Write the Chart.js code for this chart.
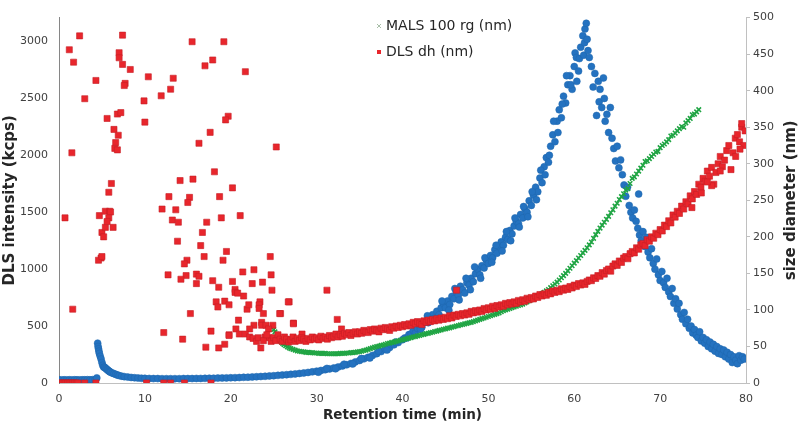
<!DOCTYPE html>
<html>
<head>
<meta charset="utf-8">
<script src="https://cdn.jsdelivr.net/npm/chart.js@4/dist/chart.umd.min.js"></script>
<style>
  html, body { margin: 0; padding: 0; background: #fff; }
  #wrap { width: 800px; height: 426px; }
</style>
</head>
<body>
<div id="wrap"><canvas id="chart" width="800" height="426"></canvas></div>
<script>
// tick values
const timeTicks = [0, 10, 20, 30, 40, 50, 60, 70, 80];
const intensityTicks = [0, 500, 1000, 1500, 2000, 2500, 3000];
const sizeTicks = [0, 50, 100, 150, 200, 250, 300, 350, 400, 450, 500];

// DLS intensity (kcps), [time, value]
const dlsIntensity = [
  [0,28],[0.3,27],[0.6,28],[0.9,27],[1.2,28],[1.5,27],[1.8,28],[2.1,28],[2.4,27],[2.7,28],[3.0,28],[3.3,29],[3.6,28],[3.9,29],[4.2,30],[4.4,45],
  [4.5,350],[4.55,320],[4.6,300],[4.65,280],[4.7,260],[4.8,235],[4.9,210],[5.0,180],[5.1,155],[5.2,140],[5.3,138],[5.4,132],[5.5,125],[5.6,118],[5.7,112],[5.8,105],[5.9,100],[6.0,95],[6.2,88],[6.4,82],[6.6,76],[6.8,70],[7.0,65],[7.3,60],[7.6,56],[8.0,52],[8.4,49],[8.8,46],[9.2,44],[9.6,42],
  [10,41],[10.5,40],[11,39],[11.5,39],[12,38],[12.5,38],[13,38],[13.5,38],[14,38],[14.5,39],[15,39],[15.5,39],[16,40],[16.5,40],[17,41],[17.5,42],[18,42],[18.5,43],[19,44],[19.5,45],
  [20,46],[20.5,47],[21,48],[21.5,50],[22,51],[22.5,53],[23,55],[23.5,57],[24,59],[24.5,62],[25,64],[25.5,67],[26,70],[26.5,73],[27,76],[27.5,80],[28,84],[28.5,88],[29,93],[29.5,98],
  [30,104],[30.5,110],[31,117],[31.5,124],[32,132],[32.5,140],[33,150],[33.5,160],[34,172],[34.5,185],[35,198],[35.5,212],[36,226],[36.5,242],[37,258],[37.5,276],[38,295],[38.5,312],[39,335],[39.5,355],
  [30.2,95],[31.2,128],[32.2,125],[33.2,165],[34.2,168],[35.2,215],[36.2,220],[37.2,280],[38.2,290],[39.2,360],
  [40,380],[40.25,395],[40.5,395],[40.75,425],[41,430],[41.25,460],[41.5,440],[41.75,480],[42,500],[42.25,490],[42.5,530],[42.75,540],[43,530],[43.25,580],[43.5,600],[43.75,570],[44,630],[44.25,600],[44.5,660],[44.75,700],
  [45,660],[45.25,720],[45.5,690],[45.75,760],[46,740],[46.25,800],[46.5,770],[46.75,850],[47,820],[47.25,790],[47.5,880],[47.75,860],[48,920],[48.25,890],[48.5,960],[48.75,1000],[49,950],[49.25,1030],[49.5,1010],[49.75,1080],
  [42.1,470],[42.9,590],[43.9,560],[44.6,720],[45.4,640],[46.1,830],[46.6,730],[47.4,920],[47.9,820],[48.4,1020],[49.1,920],[49.6,1100],
  [50,1050],[50.25,1120],[50.5,1100],[50.75,1170],[51,1140],[51.25,1200],[51.5,1240],[51.75,1210],[52,1280],[52.25,1260],[52.5,1340],[52.75,1310],[53,1380],[53.25,1420],[53.5,1400],[53.75,1480],[54,1450],[54.25,1530],[54.5,1500],[54.75,1600],
  [50.4,1060],[50.9,1210],[51.6,1160],[52.1,1330],[52.6,1250],[53.1,1450],[53.6,1370],[54.1,1550],[54.6,1460],
  [55,1560],[55.25,1650],[55.5,1720],[55.75,1680],[56,1800],[56.25,1760],[56.5,1900],[56.75,1980],[57,1940],[57.25,2080],[57.5,2180],[57.75,2120],[58,2300],[58.25,2400],[58.5,2330],[58.75,2520],[59,2460],[59.25,2620],[59.5,2700],[59.75,2580],
  [55.1,1680],[55.6,1610],[56.1,1870],[56.6,1830],[57.1,2000],[57.6,2300],[58.1,2200],[58.6,2450],[59.1,2700],[59.6,2620],
  [60,2780],[60.1,2900],[60.25,2860],[60.3,2650],[60.5,2740],[60.6,2850],[60.75,2950],[61,3050],[61.1,2880],[61.2,2990],[61.25,3110],[61.4,3160],[61.5,3020],[61.6,2920],[61.75,2860],
  [62,2780],[62.2,2600],[62.4,2720],[62.6,2350],[62.8,2650],[62.9,2470],[63,2580],[63.2,2420],[63.4,2680],[63.5,2500],[63.6,2300],[63.8,2360],[64,2200],[64.2,2420],[64.4,2150],[64.6,2060],[64.8,1950],
  [65,2080],[65.2,1890],[65.4,1960],[65.6,1830],[65.8,1740],[66,1640],[66.2,1720],[66.4,1560],[66.6,1500],[66.8,1450],[67,1520],[67.2,1420],[67.4,1360],[67.5,1660],[67.6,1300],[67.8,1250],
  [68,1330],[68.2,1200],[68.4,1280],[68.6,1150],[68.8,1100],[69,1180],[69.2,1050],[69.4,1000],[69.6,1090],[69.8,950],
  [70,900],[70.2,980],[70.4,880],[70.6,840],[70.8,920],[71,800],[71.2,760],[71.4,830],[71.6,700],[71.8,740],[72,650],[72.2,700],[72.4,600],[72.6,560],[72.8,620],[73,520],[73.2,560],[73.4,480],[73.6,500],[73.8,440],
  [74,470],[74.2,420],[74.4,400],[74.6,450],[74.8,370],[75,400],[75.2,350],[75.4,380],[75.6,320],[75.8,360],[76,300],[76.2,340],[76.4,280],[76.6,320],[76.8,260],[77,300],[77.2,250],[77.4,290],[77.6,230],[77.8,270],
  [78,210],[78.2,250],[78.4,180],[78.6,230],[78.8,200],[79,170],[79.2,240],[79.4,200],[79.6,230],[79.8,210]
];

// MALS 100 rg (nm), [time, value]
const malsRg = [
  [25,73],[25.15,70],[25.3,67],[25.45,64],[25.6,61],[25.75,58],[25.9,56],[26.05,54],[26.2,52.5],[26.4,51],[26.6,49.5],[26.8,48],[27,47],[27.25,46],[27.5,45],[27.75,44],[28,43.5],[28.25,43],[28.5,42.5],[28.75,42],
  [29,42],[29.25,41.5],[29.5,41.5],[29.75,41],[30,41],[30.25,40.5],[30.5,40.5],[30.75,40.5],[31,40.5],[31.25,40],[31.5,40],[31.75,40],[32,40],[32.25,40],[32.5,40],[32.75,40.5],[33,40.5],[33.25,40.5],[33.5,41],[33.75,41],
  [34,41.5],[34.25,41.5],[34.5,42],[34.75,42.5],[35,43],[35.25,43.5],[35.5,44.5],[35.75,45],[36,46],[36.25,47],[36.5,48],[36.75,49],[37,50],[37.25,50.5],[37.5,51.5],[37.75,52],[38,53],[38.25,54],[38.5,54.5],[38.75,55.5],
  [39,56],[39.25,57],[39.5,57.5],[39.75,58.5],[40,59],[40.25,60],[40.5,60.5],[40.75,61.5],[41,62],[41.25,63],[41.5,63.5],[41.75,64.5],[42,65],[42.25,66],[42.5,66.5],[42.75,67.5],[43,68],[43.25,69],[43.5,69.5],[43.75,70.5],
  [44,71],[44.25,72],[44.5,72.5],[44.75,73.5],[45,74],[45.25,75],[45.5,75.5],[45.75,76.5],[46,77],[46.25,78],[46.5,78.5],[46.75,79.5],[47,80],[47.25,81],[47.5,81.5],[47.75,82.5],[48,83],[48.25,84],[48.5,85],[48.75,86],
  [49,87],[49.25,88],[49.5,89],[49.75,90],[50,91],[50.25,92],[50.5,93],[50.75,94],[51,95],[51.25,96],[51.5,97.5],[51.75,99],[52,100],[52.25,101],[52.5,102],[52.75,103],[53,104],[53.25,105],[53.5,106],[53.75,107],
  [54,108],[54.25,109.5],[54.5,111],[54.75,112.5],[55,114],[55.25,115.5],[55.5,117],[55.75,119],[56,121],[56.25,122.5],[56.5,124],[56.75,126],[57,128],[57.25,130.5],[57.5,133],[57.75,135.5],[58,138],[58.25,141],[58.5,144],[58.75,147],
  [59,150],[59.25,153.5],[59.5,157],[59.75,160.5],[60,164],[60.25,167.5],[60.5,171],[60.75,174.5],[61,178],[61.25,181.5],[61.5,185],[61.75,189],[62,193],[62.25,198],[62.5,203],[62.75,207.5],[63,212],[63.25,216],[63.5,220],[63.75,224],
  [64,228],[64.25,233],[64.5,237],[64.75,242],[65,246],[65.25,251],[65.5,255],[65.75,259],[66,264],[66.25,266],[66.5,273],[66.75,280],[67,282],[67.25,286],[67.5,290],[67.75,294],[68,298],[68.25,303],[68.5,304],[68.75,307],
  [69,310],[69.25,313],[69.5,316],[69.75,317],[70,322],[70.25,325],[70.5,327],[70.75,330],[71,333],[71.25,338],[71.5,339],[71.75,342],[72,345],[72.25,348],[72.5,351],[72.75,350],[73,356],[73.25,359],[73.5,362],[73.75,367],
  [74,368],[74.25,371],[74.5,374]
];

// DLS dh (nm), [time, value]
const dlsDh = [
  [0,0],[0.2,0],[0.4,0],[0.6,0],[0.8,0],[1.0,0],[1.2,0],[1.4,0],[1.6,0],[1.8,0],[2.0,0],[2.2,0],[3.0,0],[4.3,0],[10.2,0],[12.2,0],[13.0,0],[14.6,0],[17.7,0],
  [2.4,475],[1.2,456],[1.7,439],[7.4,476],[7.0,452],[7.0,445],[7.4,436],[8.3,429],[4.3,414],[3.0,389],[7.7,410],[7.6,407],[10.4,419],[13.3,417],[13.0,402],[9.9,386],[11.9,393],[5.6,362],[6.8,368],[7.2,370],
  [10.0,357],[6.4,347],[6.9,339],[6.6,329],[6.5,321],[6.8,319],[1.5,315],[15.5,467],[19.2,467],[17.9,442],[17.0,434],[21.7,426],[19.7,365],[19.4,360],[17.6,343],[16.3,328],[25.3,323],[18.1,289],[15.6,279],[14.1,277],
  [20.2,267],[6.1,273],[5.8,261],[12.8,255],[15.2,254],[15.0,247],[18.7,255],[12.0,238],[13.6,237],[21.1,229],[18.9,226],[13.2,223],[13.9,220],[17.2,220],[0.7,226],[4.7,229],[5.4,235],[5.9,235],[6.0,234],[5.8,226],
  [1.6,101],[5.0,206],[5.2,200],[5.4,213],[5.6,221],[6.3,213],[4.9,171],[4.6,168],[5.0,173],[16.7,206],[13.8,194],[16.5,188],[16.9,173],[19.5,180],[19.1,168],[14.9,168],[14.6,163],[12.7,148],[14.8,147],[14.2,142],
  [16.0,149],[16.3,146],[16.0,136],[17.9,140],[18.6,131],[20.2,139],[21.4,152],[22.7,155],[24.6,173],[24.7,148],[23.7,138],[22.5,136],[20.5,128],[20.5,124],[20.8,123],[21.5,119],[24.8,127],[18.3,111],[19.3,112],[19.8,107],
  [18.5,104],[15.3,95],[21.9,101],[23.4,111],[23.3,107],[23.3,102],[22.1,107],[26.8,111],[25.8,95],[23.8,95],[20.9,86],[23.6,83],[23.6,79],[22.7,79],[22.2,74],[24.1,79],[24.9,79],[24.4,74],[27.3,82],[20.6,74],
  [21.0,67],[21.7,67],[22.2,63],[22.6,61],[23.0,57],[24.0,63],[24.5,62],[17.7,71],[19.8,66],[14.4,60],[12.2,69],[17.1,49],[18.6,48],[19.3,53],[19.8,65],[23.5,48],[31.2,127],[26.7,111],[25.7,95],[27.3,81],
  [32.4,87],[32.9,74],[46.3,127],[28.3,67],
  [23.2,62],[23.8,58],[24.2,66],[24.7,57],
  [25,62],[25.25,58],[25.5,66],[25.75,60],[26,57],[26.25,63],[26.5,60],[26.75,56],[27,59],[27.25,63],[27.5,57],[27.75,61],[28,58],[28.25,62],[28.5,60],[28.75,57],[29,61],[29.25,59],[29.5,63],[29.75,60],
  [30,62],[30.25,59],[30.5,64],[30.75,61],[31,63],[31.25,60],[31.5,65],[31.75,62],[32,64],[32.25,67],[32.5,63],[32.75,66],[33,64],[33.25,68],[33.5,66],[33.75,69],[34,65],[34.25,68],[34.5,70],[34.75,67],
  [35,70],[35.25,68],[35.5,72],[35.75,70],[36,69],[36.25,73],[36.5,71],[36.75,74],[37,72],[37.25,70],[37.5,75],[37.75,73],[38,76],[38.25,74],[38.5,72],[38.75,77],[39,75],[39.25,78],[39.5,76],[39.75,79],
  [40,77],[40.25,80],[40.5,78],[40.75,81],[41,79],[41.25,83],[41.5,81],[41.75,84],[42,82],[42.25,80],[42.5,85],[42.75,83],[43,86],[43.25,84],[43.5,87],[43.75,85],[44,88],[44.25,86],[44.5,89],[44.75,87],
  [45,90],[45.25,88],[45.5,92],[45.75,89],[46,93],[46.25,91],[46.5,94],[46.75,92],[47,95],[47.25,93],[47.5,96],[47.75,94],[48,98],[48.25,96],[48.5,99],[48.75,97],[49,100],[49.25,98],[49.5,102],[49.75,100],
  [50,103],[50.25,101],[50.5,105],[50.75,102],[51,106],[51.25,104],[51.5,107],[51.75,105],[52,109],[52.25,107],[52.5,110],[52.75,108],[53,111],[53.25,109],[53.5,113],[53.75,111],[54,114],[54.25,112],[54.5,116],[54.75,114],
  [55,117],[55.25,115],[55.5,119],[55.75,117],[56,121],[56.25,119],[56.5,122],[56.75,120],[57,124],[57.25,122],[57.5,126],[57.75,124],[58,127],[58.25,125],[58.5,129],[58.75,127],[59,130],[59.25,128],[59.5,132],[59.75,130],
  [60,134],[60.25,132],[60.5,136],[60.75,134],[61,137],[61.25,135],[61.5,139],[61.75,141],[62,140],[62.25,144],[62.5,143],[62.75,147],[63,146],[63.25,151],[63.5,149],[63.75,154],[64,156],[64.25,153],[64.5,160],[64.75,163],
  [65,161],[65.25,167],[65.5,165],[65.75,171],[66,173],[66.25,170],[66.5,177],[66.75,180],[67,178],[67.25,185],[67.5,183],[67.75,189],[68,191],[68.25,188],[68.5,196],[68.75,194],[69,200],[69.25,198],[69.5,205],[69.75,203],
  [70,210],[70.25,208],[70.5,216],[70.75,214],[71,222],[71.25,219],[71.5,230],[71.75,227],[72,235],[72.25,232],[72.5,242],[72.75,238],[73,248],[73.25,245],[73.5,256],[73.75,252],[74,262],[74.25,258],[74.5,272],[74.75,268],
  [75,280],[75.25,276],[75.5,290],[75.75,283],[76,295],[76.25,272],[76.5,288],[76.75,300],[77,310],[77.25,296],[77.5,305],[77.75,318],[78,325],[78.25,292],[78.5,315],[78.75,335],[79,340],[79.25,330],[79.5,350],[79.75,325],
  [79.9,345],[79.3,320],[79.5,355],[78.8,310],[77,290],[76,270],[75.5,275],[74.8,260],[73.7,240]
];

const toXY = arr => arr.map(p => ({ x: p[0], y: p[1] }));
const FONT = "'DejaVu Sans', Verdana, sans-serif";

// legend (only the two size series) and right-hand title read bottom-to-top
const extras = {
  id: "extras",
  afterDraw(chart) {
    const ctx = chart.ctx;
    ctx.save();
    ctx.font = "14px " + FONT;
    ctx.fillStyle = "#262626";
    ctx.textBaseline = "middle";
    ctx.textAlign = "left";
    // MALS entry
    ctx.strokeStyle = "#a9bfa9";
    ctx.lineWidth = 1;
    ctx.beginPath();
    ctx.moveTo(377, 24); ctx.lineTo(381, 28);
    ctx.moveTo(381, 24); ctx.lineTo(377, 28);
    ctx.stroke();
    ctx.fillText(chart.data.datasets[1].label, 386, 26);
    // DLS dh entry
    ctx.fillStyle = "#e8262c";
    ctx.fillRect(377, 50, 4, 4);
    ctx.fillStyle = "#262626";
    ctx.fillText(chart.data.datasets[2].label, 386, 52);

    const y1 = chart.scales.y1;
    ctx.translate(791, (y1.top + y1.bottom) / 2);
    ctx.rotate(-Math.PI / 2);
    ctx.textAlign = "center";
    ctx.font = "bold 15px " + FONT;
    ctx.fillText("size diameter (nm)", 0, 0);
    ctx.restore();
  }
};

const plainTick = v => String(v);

new Chart(document.getElementById("chart"), {
  type: "scatter",
  data: {
    datasets: [
      {
        label: "DLS intensity (kcps)",
        data: toXY(dlsIntensity),
        yAxisID: "y",
        order: 3,
        pointStyle: "circle",
        pointRadius: 3.5,
        backgroundColor: "#2472c0",
        borderColor: "#1f66ad",
        borderWidth: 0.5
      },
      {
        label: "MALS 100 rg (nm)",
        data: toXY(malsRg),
        yAxisID: "y1",
        order: 2,
        pointStyle: "crossRot",
        pointRadius: 3.2,
        borderColor: "#20a544",
        backgroundColor: "#20a544",
        borderWidth: 1.6
      },
      {
        label: "DLS dh (nm)",
        data: toXY(dlsDh),
        yAxisID: "y1",
        order: 1,
        pointStyle: "rect",
        pointRadius: 4.3,
        backgroundColor: "#e8262c",
        borderColor: "#c81f25",
        borderWidth: 0.6
      }
    ]
  },
  options: {
    responsive: false,
    animation: false,
    devicePixelRatio: 1,
    layout: { padding: { top: 5, left: 0, right: 0, bottom: 0 } },
    plugins: {
      legend: { display: false },
      tooltip: { enabled: false }
    },
    scales: {
      x: {
        type: "linear",
        min: 0,
        max: 80,
        afterFit: s => { s.height = 43; },
        afterBuildTicks: s => { s.ticks = timeTicks.map(v => ({ value: v })); },
        grid: { display: false, drawTicks: false },
        border: { color: "#c0c0c0", width: 1 },
        ticks: { padding: 10, color: "#404040", font: { family: FONT, size: 11 }, callback: plainTick },
        title: {
          display: true,
          text: "Retention time (min)",
          color: "#262626",
          padding: { top: 0, bottom: 2 },
          font: { family: FONT, size: 13.5, weight: "bold" }
        }
      },
      y: {
        position: "left",
        min: 0,
        max: 3210,
        afterFit: s => { s.width = 59; },
        afterBuildTicks: s => { s.ticks = intensityTicks.map(v => ({ value: v })); },
        grid: { display: false, drawTicks: false },
        border: { color: "#868686", width: 1 },
        ticks: { padding: 11, color: "#404040", font: { family: FONT, size: 11 }, callback: plainTick },
        title: {
          display: true,
          text: "DLS intensity (kcps)",
          color: "#262626",
          padding: { top: 1, bottom: 0 },
          font: { family: FONT, size: 15, weight: "bold" }
        }
      },
      y1: {
        position: "right",
        min: 0,
        max: 500,
        afterFit: s => { s.width = 54; },
        afterBuildTicks: s => { s.ticks = sizeTicks.map(v => ({ value: v })); },
        grid: { display: true, drawOnChartArea: false, drawTicks: true, tickLength: 4, color: "#c0c0c0" },
        border: { color: "#c0c0c0", width: 1 },
        ticks: { padding: 3, color: "#404040", font: { family: FONT, size: 11 }, callback: plainTick }
      }
    }
  },
  plugins: [extras]
});
</script>
</body>
</html>
